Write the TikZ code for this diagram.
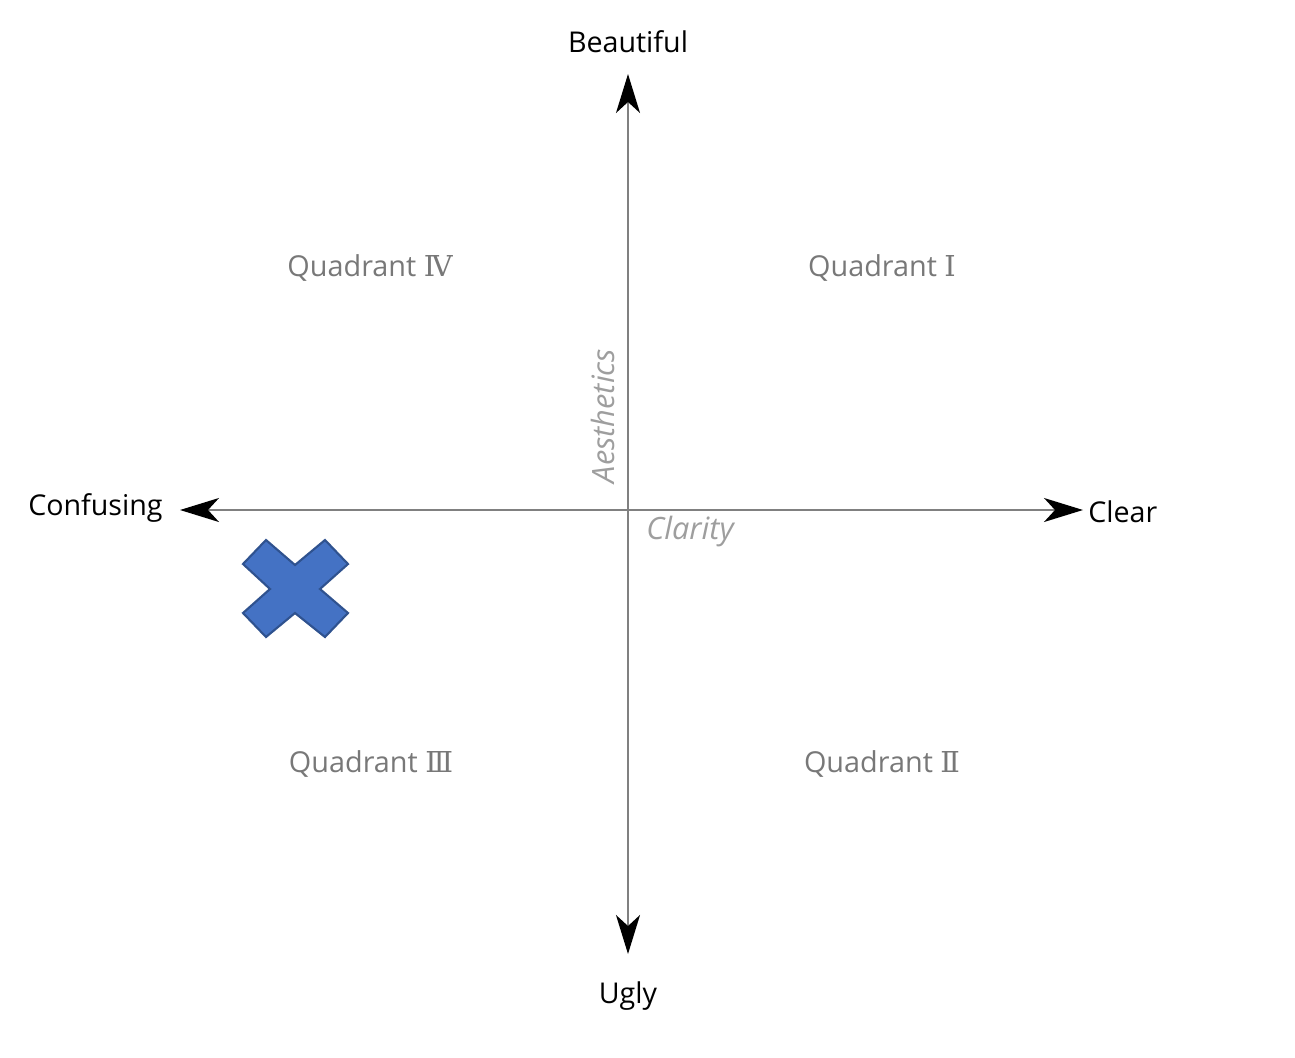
\documentclass[tikz,border=0pt]{standalone}
\usepackage{fontspec}
\setmainfont{Open Sans}
\newfontfamily\numfont{DejaVu Serif}
\usetikzlibrary{arrows.meta}

\definecolor{AxisGray}{rgb}{0.5,0.5,0.5}
\definecolor{QuadGray}{rgb}{0.47,0.47,0.47}
\definecolor{NameGray}{rgb}{0.62,0.62,0.62}
\definecolor{CrossBlue}{HTML}{4472C4}
\definecolor{CrossEdge}{HTML}{2F528F}

\tikzset{
  axis/.style={draw=AxisGray,line width=1.1pt,
    -{Stealth[length=0.78cm,width=0.48cm,inset=0.22cm,color=black]}},
  pole/.style={font=\fontsize{16.3}{19}\selectfont,text=black,inner sep=0pt},
  quad/.style={font=\fontsize{16.4}{19}\selectfont,text=QuadGray,inner sep=0pt},
  axisname/.style={font=\fontsize{17.5}{20}\selectfont\itshape,text=NameGray,inner sep=0pt}
}

\begin{document}
\begin{tikzpicture}[x=0.02cm,y=-0.02cm]
\useasboundingbox (0,0) rectangle (1295,1058);

% axis ends
\coordinate (O) at (628,510);
\coordinate (top) at (628,74);
\coordinate (bot) at (628,954);
\coordinate (lft) at (180,510);
\coordinate (rgt) at (1083,510);

\draw[axis] (O) -- (top);
\draw[axis] (O) -- (bot);
\draw[axis] (O) -- (lft);
\draw[axis] (O) -- (rgt);

\node[pole] (beautiful) at (628,42) {Beautiful};
\node[pole] (ugly) at (628,996) {Ugly};
\node[pole,anchor=east] (confusing) at (163,508) {Confusing};
\node[pole,anchor=west] (clear) at (1088,512) {Clear};

\node[axisname,rotate=90] (aesthetics) at (603,416) {Aesthetics};
\node[axisname] (clarity) at (690,532) {Clarity};

\node[quad] (q4) at (370,268) {Quadrant {\numfont Ⅳ}};
\node[quad] (q1) at (882,268) {Quadrant {\numfont Ⅰ}};
\node[quad] (q3) at (371,764) {Quadrant {\numfont Ⅲ}};
\node[quad] (q2) at (882,764) {Quadrant {\numfont Ⅱ}};

% the mark
\filldraw[fill=CrossBlue,draw=CrossEdge,line width=1.2pt,line join=miter]
  (266,540) -- (295,565) -- (325,540) -- (348,564) -- (320,589) -- (348,613)
  -- (325,637) -- (295,613) -- (266,637) -- (243,613) -- (270,589) -- (243,564) -- cycle;
\end{tikzpicture}
\end{document}
